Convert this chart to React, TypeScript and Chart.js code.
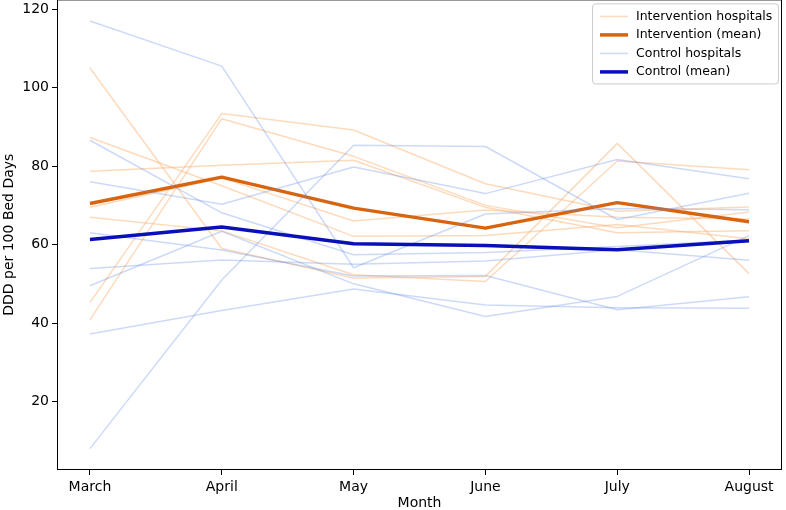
import { useEffect, useRef } from 'react';
import { Chart, registerables } from 'chart.js';

Chart.register(...registerables);

const months = ['March', 'April', 'May', 'June', 'July', 'August'];
const yTicks = [20, 40, 60, 80, 100, 120];

// individual intervention hospitals
const int1 = [105, 59, 51.5, 51.9, 85.8, 52.6];
const int2 = [87.3, 75, 62.1, 62.3, 65.1, 61.5];
const int3 = [78.7, 80.2, 81.5, 69.5, 63, 63.5];
const int4 = [67, 63.5, 52.3, 50.6, 81.3, 79.1];
const int5 = [45.2, 93.4, 89.2, 75.5, 68.5, 69.6];
const int6 = [40.8, 92.1, 82.5, 70, 64.3, 68.3];
const int7 = [69.5, 77, 66, 68.8, 67, 66.5];
const interventionMean = [70.5, 77.2, 69.3, 64.2, 70.7, 65.8];

// individual control hospitals
const ctl1 = [117, 105.5, 54.1, 67.8, 69.2, 68.9];
const ctl2 = [8, 51, 85.3, 85, 66.4, 73.1];
const ctl3 = [76, 70.3, 79.8, 73, 81.7, 76.8];
const ctl4 = [86.6, 68.1, 57.4, 58, 59.5, 61.2];
const ctl5 = [63, 58.6, 52, 52.1, 43.4, 46.7];
const ctl6 = [53.9, 56.1, 55, 55.8, 58.7, 56];
const ctl7 = [49.5, 63.4, 50, 41.7, 46.8, 62.3];
const ctl8 = [37.2, 43.2, 48.7, 44.6, 43.9, 43.8];
const controlMean = [61.3, 64.5, 60.2, 59.8, 58.7, 61.0];

const interventionHospitals = [int1, int2, int3, int4, int5, int6, int7];
const controlHospitals = [ctl1, ctl2, ctl3, ctl4, ctl5, ctl6, ctl7, ctl8];

const INT_LIGHT = 'rgba(253,174,107,0.45)';
const INT_DARK = '#d8640f';
const CTL_LIGHT = 'rgba(100,140,230,0.32)';
const CTL_DARK = '#0a10b8';

const FONT = "'DejaVu Sans', sans-serif";

// the canvas is a bit taller than the page and pulled up, so the plot frame
// touches the top edge like the original figure does
const SHIFT = 12;

const toPoints = (vals: number[]) => vals.map((y, x) => ({ x, y }));

const legendItems = [
  { label: 'Intervention hospitals', color: INT_LIGHT, width: 1.5 },
  { label: 'Intervention (mean)', color: INT_DARK, width: 3.5 },
  { label: 'Control hospitals', color: CTL_LIGHT, width: 1.5 },
  { label: 'Control (mean)', color: CTL_DARK, width: 3.5 },
];

const framePlugin = {
  id: 'frame',
  afterDatasetsDraw(chart: any) {
    const { ctx, chartArea } = chart;
    ctx.save();
    ctx.strokeStyle = '#000';
    ctx.lineWidth = 1;
    ctx.strokeRect(chartArea.left + 0.5, chartArea.top + 0.5, chartArea.right - chartArea.left - 1, chartArea.bottom - chartArea.top - 1);

    // legend box in the top right corner
    const boxW = 186;
    const boxH = 80;
    const bx = chartArea.right - boxW - 4;
    const by = chartArea.top + 4;
    ctx.fillStyle = 'rgba(255,255,255,0.8)';
    ctx.strokeStyle = '#cccccc';
    ctx.lineWidth = 1;
    ctx.beginPath();
    ctx.roundRect(bx + 0.5, by + 0.5, boxW, boxH, 3);
    ctx.fill();
    ctx.stroke();
    ctx.font = `12.5px ${FONT}`;
    ctx.textBaseline = 'middle';
    legendItems.forEach((it, i) => {
      const y = by + 13 + i * 18.5;
      ctx.strokeStyle = it.color;
      ctx.lineWidth = it.width;
      ctx.beginPath();
      ctx.moveTo(bx + 8, y);
      ctx.lineTo(bx + 36, y);
      ctx.stroke();
      ctx.fillStyle = '#000';
      ctx.fillText(it.label, bx + 44, y);
    });
    ctx.restore();
  },
};

const App = () => {
  const canvasRef = useRef<HTMLCanvasElement | null>(null);
  const chartRef = useRef<Chart | null>(null);

  useEffect(() => {
    document.body.style.margin = '0';
    if (!canvasRef.current) return;
    if (chartRef.current) chartRef.current.destroy();

    const datasets: any[] = [];
    interventionHospitals.forEach((vals) => {
      datasets.push({ label: 'Intervention hospitals', data: toPoints(vals), borderColor: INT_LIGHT, borderWidth: 1.5, order: 4 });
    });
    datasets.push({ label: 'Intervention (mean)', data: toPoints(interventionMean), borderColor: INT_DARK, borderWidth: 3.5, order: 3 });
    controlHospitals.forEach((vals) => {
      datasets.push({ label: 'Control hospitals', data: toPoints(vals), borderColor: CTL_LIGHT, borderWidth: 1.5, order: 2 });
    });
    datasets.push({ label: 'Control (mean)', data: toPoints(controlMean), borderColor: CTL_DARK, borderWidth: 3.5, order: 1 });

    chartRef.current = new Chart(canvasRef.current, {
      type: 'line',
      data: { datasets },
      plugins: [framePlugin],
      options: {
        responsive: false,
        animation: false,
        devicePixelRatio: 1,
        layout: { padding: { top: 0, right: 4, left: 0, bottom: 0 } },
        elements: {
          point: { radius: 0 },
          line: { tension: 0, borderJoinStyle: 'round', borderCapStyle: 'butt', fill: false },
        },
        plugins: {
          legend: { display: false },
          tooltip: { enabled: false },
        },
        scales: {
          x: {
            type: 'linear',
            min: -0.25,
            max: 5.25,
            afterFit: (scale: any) => { scale.height = 40; },
            afterBuildTicks: (scale: any) => { scale.ticks = months.map((_, i) => ({ value: i })); },
            grid: { drawOnChartArea: false, drawTicks: true, tickLength: 5, color: '#000' },
            border: { display: false },
            ticks: {
              autoSkip: false,
              maxRotation: 0,
              padding: 4,
              color: '#000',
              font: { family: FONT, size: 14 },
              callback: (v: any) => months[Number(v)] ?? '',
            },
            title: { display: true, text: 'Month', color: '#000', font: { family: FONT, size: 14, lineHeight: 1 }, padding: { top: 4, bottom: 0 } },
          },
          y: {
            min: 2.55,
            max: 122.5,
            afterFit: (scale: any) => { scale.width = 57; },
            afterBuildTicks: (scale: any) => { scale.ticks = yTicks.map((v) => ({ value: v })); },
            grid: { drawOnChartArea: false, drawTicks: true, tickLength: 5, color: '#000' },
            border: { display: false },
            ticks: {
              padding: 3,
              color: '#000',
              font: { family: FONT, size: 14 },
              callback: (v: any) => String(v),
            },
            title: { display: true, text: 'DDD per 100 Bed Days', color: '#000', font: { family: FONT, size: 14 }, padding: { top: 1, bottom: 0 } },
          },
        },
      },
    });

    return () => {
      if (chartRef.current) {
        chartRef.current.destroy();
        chartRef.current = null;
      }
    };
  }, []);

  return (
    <div style={{ width: 786, height: 510, background: '#fff', overflow: 'hidden', position: 'relative' }}>
      <canvas
        ref={canvasRef}
        width={786}
        height={510 + SHIFT}
        style={{ position: 'absolute', left: 0, top: -SHIFT }}
      ></canvas>
    </div>
  );
};

export default App;
